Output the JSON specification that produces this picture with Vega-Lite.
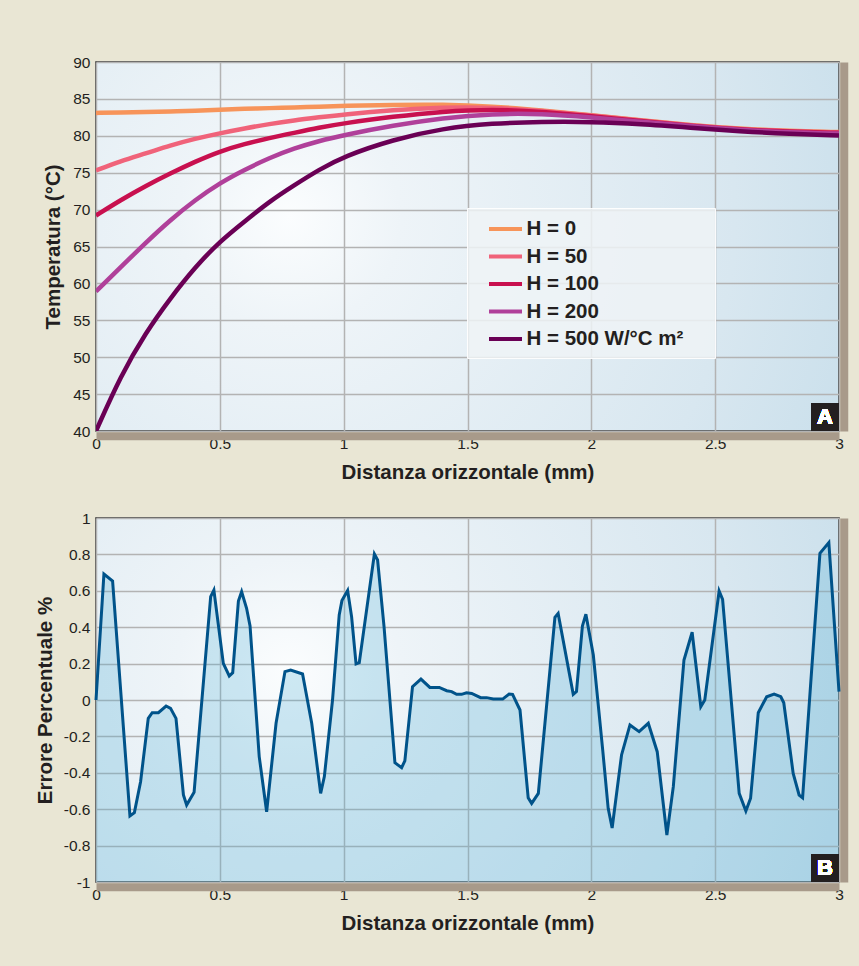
{
  "$schema": "https://vega.github.io/schema/vega-lite/v6.json",
  "background": "#e9e6d4",
  "padding": {"left": 34, "top": 54, "right": 16, "bottom": 40},
  "autosize": {"type": "pad"},
  "bounds": "flush",
  "spacing": 87,
  "config": {
    "font": "Liberation Sans",
    "view": {
      "stroke": "#2b2b2b",
      "strokeWidth": 1.5,
      "fill": {
        "gradient": "radial",
        "x1": 0.26, "y1": 0.46, "x2": 0.26, "y2": 0.46, "r1": 0, "r2": 1,
        "stops": [
          {"offset": 0, "color": "#fbfdfe"},
          {"offset": 0.15, "color": "#eef4f8"},
          {"offset": 0.6, "color": "#d8e7f0"},
          {"offset": 1, "color": "#bcd8e7"}
        ]
      }
    },
    "axis": {
      "labelFont": "Liberation Sans",
      "labelFontSize": 15.5,
      "labelColor": "#231f20",
      "titleFont": "Liberation Sans",
      "titleFontSize": 20.5,
      "titleFontWeight": "bold",
      "titleColor": "#231f20",
      "ticks": false,
      "gridColor": "#b3b3b3",
      "gridWidth": 1.5,
      "gridOpacity": 1
    }
  },
  "datasets": {
    "temp": [
      {"x": 0, "H": "H = 0", "T": 83.1}, {"x": 0.1, "H": "H = 0", "T": 83.15}, {"x": 0.2, "H": "H = 0", "T": 83.2}, {"x": 0.3, "H": "H = 0", "T": 83.3}, {"x": 0.4, "H": "H = 0", "T": 83.4}, {"x": 0.5, "H": "H = 0", "T": 83.55}, {"x": 0.6, "H": "H = 0", "T": 83.65}, {"x": 0.7, "H": "H = 0", "T": 83.75}, {"x": 0.8, "H": "H = 0", "T": 83.85}, {"x": 0.9, "H": "H = 0", "T": 83.95}, {"x": 1.0, "H": "H = 0", "T": 84.05}, {"x": 1.2, "H": "H = 0", "T": 84.2}, {"x": 1.4, "H": "H = 0", "T": 84.25}, {"x": 1.6, "H": "H = 0", "T": 84.0}, {"x": 1.8, "H": "H = 0", "T": 83.45}, {"x": 2.0, "H": "H = 0", "T": 82.8}, {"x": 2.2, "H": "H = 0", "T": 82.1}, {"x": 2.4, "H": "H = 0", "T": 81.45}, {"x": 2.6, "H": "H = 0", "T": 80.95}, {"x": 2.8, "H": "H = 0", "T": 80.65}, {"x": 3.0, "H": "H = 0", "T": 80.5},
      {"x": 0, "H": "H = 50", "T": 75.3}, {"x": 0.1, "H": "H = 50", "T": 76.6}, {"x": 0.2, "H": "H = 50", "T": 77.6}, {"x": 0.3, "H": "H = 50", "T": 78.7}, {"x": 0.4, "H": "H = 50", "T": 79.6}, {"x": 0.5, "H": "H = 50", "T": 80.35}, {"x": 0.6, "H": "H = 50", "T": 81.0}, {"x": 0.7, "H": "H = 50", "T": 81.6}, {"x": 0.8, "H": "H = 50", "T": 82.1}, {"x": 0.9, "H": "H = 50", "T": 82.5}, {"x": 1.0, "H": "H = 50", "T": 82.9}, {"x": 1.2, "H": "H = 50", "T": 83.5}, {"x": 1.4, "H": "H = 50", "T": 83.85}, {"x": 1.6, "H": "H = 50", "T": 83.85}, {"x": 1.8, "H": "H = 50", "T": 83.4}, {"x": 2.0, "H": "H = 50", "T": 82.75}, {"x": 2.2, "H": "H = 50", "T": 82.05}, {"x": 2.4, "H": "H = 50", "T": 81.4}, {"x": 2.6, "H": "H = 50", "T": 80.9}, {"x": 2.8, "H": "H = 50", "T": 80.6}, {"x": 3.0, "H": "H = 50", "T": 80.45},
      {"x": 0, "H": "H = 100", "T": 69.2}, {"x": 0.1, "H": "H = 100", "T": 71.3}, {"x": 0.2, "H": "H = 100", "T": 73.2}, {"x": 0.3, "H": "H = 100", "T": 74.9}, {"x": 0.4, "H": "H = 100", "T": 76.5}, {"x": 0.5, "H": "H = 100", "T": 77.9}, {"x": 0.6, "H": "H = 100", "T": 78.9}, {"x": 0.7, "H": "H = 100", "T": 79.7}, {"x": 0.8, "H": "H = 100", "T": 80.4}, {"x": 0.9, "H": "H = 100", "T": 81.1}, {"x": 1.0, "H": "H = 100", "T": 81.7}, {"x": 1.2, "H": "H = 100", "T": 82.6}, {"x": 1.4, "H": "H = 100", "T": 83.3}, {"x": 1.6, "H": "H = 100", "T": 83.6}, {"x": 1.8, "H": "H = 100", "T": 83.3}, {"x": 2.0, "H": "H = 100", "T": 82.65}, {"x": 2.2, "H": "H = 100", "T": 82.0}, {"x": 2.4, "H": "H = 100", "T": 81.35}, {"x": 2.6, "H": "H = 100", "T": 80.85}, {"x": 2.8, "H": "H = 100", "T": 80.55}, {"x": 3.0, "H": "H = 100", "T": 80.4},
      {"x": 0, "H": "H = 200", "T": 58.9}, {"x": 0.1, "H": "H = 200", "T": 62.2}, {"x": 0.2, "H": "H = 200", "T": 65.5}, {"x": 0.3, "H": "H = 200", "T": 68.6}, {"x": 0.4, "H": "H = 200", "T": 71.3}, {"x": 0.5, "H": "H = 200", "T": 73.6}, {"x": 0.6, "H": "H = 200", "T": 75.4}, {"x": 0.7, "H": "H = 200", "T": 77.0}, {"x": 0.8, "H": "H = 200", "T": 78.3}, {"x": 0.9, "H": "H = 200", "T": 79.3}, {"x": 1.0, "H": "H = 200", "T": 80.1}, {"x": 1.2, "H": "H = 200", "T": 81.4}, {"x": 1.4, "H": "H = 200", "T": 82.4}, {"x": 1.6, "H": "H = 200", "T": 83.0}, {"x": 1.8, "H": "H = 200", "T": 83.0}, {"x": 2.0, "H": "H = 200", "T": 82.5}, {"x": 2.2, "H": "H = 200", "T": 81.9}, {"x": 2.4, "H": "H = 200", "T": 81.3}, {"x": 2.6, "H": "H = 200", "T": 80.8}, {"x": 2.8, "H": "H = 200", "T": 80.45}, {"x": 3.0, "H": "H = 200", "T": 80.3},
      {"x": 0, "H": "H = 500 W/°C m²", "T": 40.0}, {"x": 0.1, "H": "H = 500 W/°C m²", "T": 47.5}, {"x": 0.2, "H": "H = 500 W/°C m²", "T": 53.3}, {"x": 0.3, "H": "H = 500 W/°C m²", "T": 58.0}, {"x": 0.4, "H": "H = 500 W/°C m²", "T": 62.2}, {"x": 0.5, "H": "H = 500 W/°C m²", "T": 65.7}, {"x": 0.6, "H": "H = 500 W/°C m²", "T": 68.4}, {"x": 0.7, "H": "H = 500 W/°C m²", "T": 71.1}, {"x": 0.8, "H": "H = 500 W/°C m²", "T": 73.3}, {"x": 0.9, "H": "H = 500 W/°C m²", "T": 75.4}, {"x": 1.0, "H": "H = 500 W/°C m²", "T": 77.2}, {"x": 1.2, "H": "H = 500 W/°C m²", "T": 79.5}, {"x": 1.4, "H": "H = 500 W/°C m²", "T": 81.0}, {"x": 1.6, "H": "H = 500 W/°C m²", "T": 81.7}, {"x": 1.8, "H": "H = 500 W/°C m²", "T": 81.9}, {"x": 2.0, "H": "H = 500 W/°C m²", "T": 81.9}, {"x": 2.2, "H": "H = 500 W/°C m²", "T": 81.6}, {"x": 2.4, "H": "H = 500 W/°C m²", "T": 81.1}, {"x": 2.6, "H": "H = 500 W/°C m²", "T": 80.6}, {"x": 2.8, "H": "H = 500 W/°C m²", "T": 80.25}, {"x": 3.0, "H": "H = 500 W/°C m²", "T": 80.05}
    ],
    "err": [
      {"x": 0, "e": 0}, {"x": 0.032, "e": 0.692}, {"x": 0.067, "e": 0.654}, {"x": 0.137, "e": -0.637}, {"x": 0.155, "e": -0.619}, {"x": 0.18, "e": -0.449}, {"x": 0.211, "e": -0.101}, {"x": 0.227, "e": -0.07}, {"x": 0.252, "e": -0.07}, {"x": 0.283, "e": -0.033}, {"x": 0.301, "e": -0.046}, {"x": 0.323, "e": -0.101}, {"x": 0.353, "e": -0.522}, {"x": 0.366, "e": -0.577}, {"x": 0.396, "e": -0.507}, {"x": 0.463, "e": 0.568}, {"x": 0.476, "e": 0.604}, {"x": 0.514, "e": 0.201}, {"x": 0.538, "e": 0.132}, {"x": 0.552, "e": 0.15}, {"x": 0.575, "e": 0.544}, {"x": 0.588, "e": 0.595}, {"x": 0.608, "e": 0.504}, {"x": 0.622, "e": 0.407}, {"x": 0.659, "e": -0.311}, {"x": 0.689, "e": -0.614}, {"x": 0.727, "e": -0.128}, {"x": 0.763, "e": 0.156}, {"x": 0.786, "e": 0.165}, {"x": 0.834, "e": 0.143}, {"x": 0.871, "e": -0.128}, {"x": 0.907, "e": -0.513}, {"x": 0.922, "e": -0.421}, {"x": 0.955, "e": 0}, {"x": 0.982, "e": 0.467}, {"x": 0.993, "e": 0.546}, {"x": 1.016, "e": 0.601}, {"x": 1.032, "e": 0.458}, {"x": 1.05, "e": 0.198}, {"x": 1.063, "e": 0.205}, {"x": 1.124, "e": 0.802}, {"x": 1.137, "e": 0.769}, {"x": 1.163, "e": 0.403}, {"x": 1.207, "e": -0.345}, {"x": 1.234, "e": -0.372}, {"x": 1.247, "e": -0.334}, {"x": 1.278, "e": 0.073}, {"x": 1.312, "e": 0.115}, {"x": 1.348, "e": 0.069}, {"x": 1.386, "e": 0.069}, {"x": 1.416, "e": 0.051}, {"x": 1.436, "e": 0.046}, {"x": 1.456, "e": 0.031}, {"x": 1.476, "e": 0.031}, {"x": 1.496, "e": 0.04}, {"x": 1.517, "e": 0.036}, {"x": 1.553, "e": 0.013}, {"x": 1.577, "e": 0.013}, {"x": 1.604, "e": 0.005}, {"x": 1.642, "e": 0.005}, {"x": 1.668, "e": 0.033}, {"x": 1.682, "e": 0.031}, {"x": 1.712, "e": -0.055}, {"x": 1.745, "e": -0.537}, {"x": 1.759, "e": -0.568}, {"x": 1.786, "e": -0.513}, {"x": 1.853, "e": 0.454}, {"x": 1.866, "e": 0.476}, {"x": 1.927, "e": 0.031}, {"x": 1.94, "e": 0.046}, {"x": 1.964, "e": 0.407}, {"x": 1.978, "e": 0.471}, {"x": 2.008, "e": 0.247}, {"x": 2.046, "e": -0.275}, {"x": 2.068, "e": -0.595}, {"x": 2.084, "e": -0.703}, {"x": 2.122, "e": -0.302}, {"x": 2.156, "e": -0.137}, {"x": 2.193, "e": -0.174}, {"x": 2.23, "e": -0.128}, {"x": 2.266, "e": -0.284}, {"x": 2.305, "e": -0.742}, {"x": 2.331, "e": -0.476}, {"x": 2.374, "e": 0.22}, {"x": 2.407, "e": 0.372}, {"x": 2.442, "e": -0.037}, {"x": 2.458, "e": 0}, {"x": 2.516, "e": 0.599}, {"x": 2.53, "e": 0.553}, {"x": 2.597, "e": -0.513}, {"x": 2.624, "e": -0.61}, {"x": 2.643, "e": -0.54}, {"x": 2.674, "e": -0.07}, {"x": 2.708, "e": 0.018}, {"x": 2.738, "e": 0.033}, {"x": 2.765, "e": 0.018}, {"x": 2.777, "e": -0.015}, {"x": 2.815, "e": -0.403}, {"x": 2.839, "e": -0.522}, {"x": 2.853, "e": -0.537}, {"x": 2.923, "e": 0.806}, {"x": 2.959, "e": 0.865}, {"x": 3.0, "e": 0.046}
    ]
  },
  "vconcat": [
    {
      "width": 743,
      "height": 369,
      "data": {"name": "temp"},
      "resolve": {"axis": {"y": "independent"}},
      "layer": [
        {
          "mark": {"type": "line", "strokeWidth": 4.5, "interpolate": "basis", "clip": true},
          "encoding": {
            "x": {
              "field": "x", "type": "quantitative",
              "scale": {"domain": [0, 3], "nice": false},
              "axis": {
                "values": [0, 0.5, 1, 1.5, 2, 2.5, 3],
                "labelExpr": "format(datum.value, '.1~f')",
                "labelFlush": false,
                "title": "Distanza orizzontale (mm)",
                "domainColor": "#a89a8a", "domainWidth": 8, "offset": 4.75,
                "labelPadding": 1, "titlePadding": 10
              }
            },
            "y": {
              "field": "T", "type": "quantitative",
              "scale": {"domain": [40, 90], "nice": false, "zero": false},
              "axis": {
                "values": [40, 45, 50, 55, 60, 65, 70, 75, 80, 85, 90],
                "title": "Temperatura (°C)",
                "domain": false, "labelPadding": 6, "titlePadding": 9
              }
            },
            "color": {
              "field": "H", "type": "nominal",
              "scale": {
                "domain": ["H = 0", "H = 50", "H = 100", "H = 200", "H = 500 W/°C m²"],
                "range": ["#f7945a", "#f0637a", "#c8104f", "#b0409a", "#6a0055"]
              },
              "legend": {
                "title": "M",
                "titleColor": "rgba(0,0,0,0)",
                "titleOrient": "right",
                "titleFontSize": 20,
                "titlePadding": 7,
                "orient": "none",
                "legendX": 371,
                "legendY": 146,
                "symbolType": "M-1.5,0H1.5",
                "symbolSize": 484,
                "symbolStrokeWidth": 4,
                "symbolStrokeColor": {"expr": "scale('color', datum.value)"},
                "symbolOffset": 17.5,
                "labelFont": "Liberation Sans",
                "labelFontSize": 20.5,
                "labelFontWeight": "bold",
                "labelColor": "#231f20",
                "labelOffset": 8,
                "rowPadding": 3.5,
                "padding": 8,
                "fillColor": "rgba(238,243,246,0.85)",
                "strokeColor": "rgba(255,255,255,0.9)"
              }
            }
          }
        },
        {
          "mark": {"type": "point", "opacity": 0},
          "encoding": {
            "y": {
              "datum": 40, "type": "quantitative",
              "axis": {"orient": "right", "title": null, "labels": false, "grid": false, "domainColor": "#a89a8a", "domainWidth": 8, "offset": 4.75}
            }
          }
        },
        {
          "mark": {"type": "rect", "fill": "#231f20"},
          "encoding": {
            "x": {"datum": 2.887, "type": "quantitative"},
            "x2": {"datum": 3},
            "y": {"datum": 40, "type": "quantitative", "axis": null},
            "y2": {"datum": 43.79}
          }
        },
        {
          "mark": {"type": "text", "text": "A", "color": "#ffffff", "font": "Liberation Sans", "fontSize": 22, "fontWeight": "bold", "baseline": "middle", "align": "center"},
          "encoding": {
            "x": {"datum": 2.943, "type": "quantitative"},
            "y": {"datum": 41.9, "type": "quantitative", "axis": null}
          }
        }
      ]
    },
    {
      "width": 743,
      "height": 364,
      "data": {"name": "err"},
      "resolve": {"axis": {"y": "independent"}},
      "layer": [
        {
          "mark": {"type": "area", "fill": "#46aad2", "opacity": 0.25},
          "encoding": {
            "x": {
              "field": "x", "type": "quantitative",
              "scale": {"domain": [0, 3], "nice": false},
              "axis": {
                "values": [0, 0.5, 1, 1.5, 2, 2.5, 3],
                "labelExpr": "format(datum.value, '.1~f')",
                "labelFlush": false,
                "title": "Distanza orizzontale (mm)",
                "domainColor": "#a89a8a", "domainWidth": 8, "offset": 4.75,
                "labelPadding": 1, "titlePadding": 10
              }
            },
            "y": {
              "field": "e", "type": "quantitative",
              "scale": {"domain": [-1, 1], "nice": false, "zero": false},
              "axis": {
                "values": [-1, -0.8, -0.6, -0.4, -0.2, 0, 0.2, 0.4, 0.6, 0.8, 1],
                "labelExpr": "replace(format(datum.value, '.1~f'), '\u2212', '-')",
                "title": "Errore Percentuale %",
                "domain": false, "labelPadding": 6, "titlePadding": 8
              }
            },
            "y2": {"datum": -1}
          }
        },
        {
          "mark": {"type": "line", "stroke": "#00538a", "strokeWidth": 3},
          "encoding": {
            "x": {"field": "x", "type": "quantitative"},
            "y": {"field": "e", "type": "quantitative", "axis": null}
          }
        },
        {
          "mark": {"type": "point", "opacity": 0},
          "encoding": {
            "y": {
              "datum": 0, "type": "quantitative",
              "axis": {"orient": "right", "title": null, "labels": false, "grid": false, "domainColor": "#a89a8a", "domainWidth": 8, "offset": 4.75}
            }
          }
        },
        {
          "mark": {"type": "rect", "fill": "#231f20"},
          "encoding": {
            "x": {"datum": 2.887, "type": "quantitative"},
            "x2": {"datum": 3},
            "y": {"datum": -1, "type": "quantitative", "axis": null},
            "y2": {"datum": -0.846}
          }
        },
        {
          "mark": {"type": "text", "text": "B", "color": "#ffffff", "font": "Liberation Sans", "fontSize": 22, "fontWeight": "bold", "baseline": "middle", "align": "center"},
          "encoding": {
            "x": {"datum": 2.943, "type": "quantitative"},
            "y": {"datum": -0.923, "type": "quantitative", "axis": null}
          }
        }
      ]
    }
  ]
}
